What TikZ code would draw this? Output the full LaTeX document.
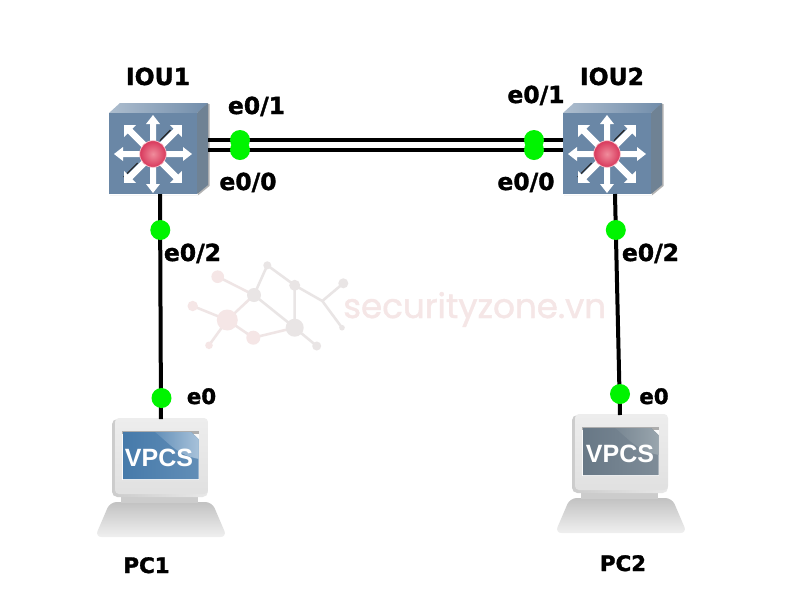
\documentclass[tikz,border=0pt]{standalone}
\usepackage{fontspec}
\setmainfont[BoldFeatures={FakeBold=1.4}]{DejaVu Sans}
\newfontfamily\screenfont{Liberation Sans}
\newfontfamily\markfont[FakeBold=1.2]{Poppins}
\definecolor{linkgreen}{HTML}{00F400}
\definecolor{faceblue}{HTML}{6A87A6}
\definecolor{sideblue}{HTML}{6F8294}
\definecolor{markpink}{HTML}{F5E6E6}
\definecolor{markgrey}{HTML}{E9E5E5}
\definecolor{screenblue}{HTML}{467AAA}
\definecolor{glossblue}{HTML}{A8C2DA}
\definecolor{screengrey}{HTML}{687886}
\definecolor{glossgrey}{HTML}{9AA6AE}
\definecolor{ballin}{HTML}{F08C9C}
\definecolor{ballout}{HTML}{D8385C}
\tikzset{
  link/.style={line width=3pt,black},
  port/.style={circle,fill=linkgreen,draw=none,minimum size=15pt,inner sep=0pt},
  tag/.style={font=\bfseries\fontsize{17.6}{20}\selectfont,anchor=base,inner sep=0pt},
  smalltag/.style={font=\bfseries\fontsize{16}{20}\selectfont,anchor=base,inner sep=0pt},
  web/.style={line width=1.9pt},
  switchface/.style={rectangle,minimum width=66pt,minimum height=60.75pt,inner sep=0pt,draw=none},
  pics/switchbody/.style={code={
    % shadow, roof and side of the cube around the front face at the origin
    \fill[black!30] (-43,41) -- (45.5,41) -- (56.5,32) -- (56.5,-50) -- (45,-50) -- (45,41) -- cycle;
    \shade[left color=faceblue!55!white,right color=faceblue!95!white]
      (-44,-41) -- (-33,-51) -- (55,-51) -- (44,-41) -- cycle;
    \fill[sideblue] (44,-41) -- (55,-51) -- (55,31) -- (44,40) -- cycle;
    \fill[faceblue] (-44,-41) rectangle (44,40);
    % dark edges beside the rising diagonal
    \draw[black!85,line width=.9pt] (7,-13.4) -- (17.5,-24);
    \draw[black!85,line width=.9pt] (-29.4,23) -- (-15.4,9);
    % eight white spokes
    \foreach \ang in {0,90,180,270}{
      \fill[white,rotate=\ang] (0,-3) -- (30,-3) -- (30,-7) -- (39,0) -- (30,7) -- (30,3) -- (0,3) -- cycle;}
    \foreach \ang in {45,135,225,315}{
      \fill[white,rotate=\ang] (0,-3.2) -- (32.5,-3.2) -- (32.5,-8.5) -- (41,0) -- (32.5,8.5) -- (32.5,3.2) -- (0,3.2) -- cycle;}
    % red ball in the middle
    \shade[inner color=ballin,outer color=ballout,draw=ballin!50!white,line width=.5pt]
      (0,0) circle[radius=13.3];
  }},
  pics/pcbody/.style args={#1 and #2}{code={
    % base of the terminal, then neck, monitor and screen
    \shade[top color=black!24,bottom color=black!6,rounded corners=5pt]
      (-51,83) -- (51,83) -- (66,118) -- (-66,118) -- cycle;
    \fill[black!20] (-40,76) rectangle (37,84);
    \shade[left color=black!20,right color=black!9,rounded corners=4pt] (-49,0) rectangle (47,78);
    \shade[top color=black!7,bottom color=black!12,rounded corners=3pt] (-46,-1) rectangle (47,75);
    \fill[black!32] (-39,12) rectangle (38,15);
    \fill[black!2] (-39,15) rectangle (38,61);
    \begin{scope}
      \clip (-38,13) -- (30,13) -- (37.5,20) -- (37.5,60) -- (-38,60) -- cycle;
      \shade[left color=#1,right color=#1!85!white] (-38,13) rectangle (38,60);
      \shade[left color=#1!70!#2,right color=#2] (-6,13) .. controls (8,24) and (16,36) .. (38,40) -- (38,13) -- cycle;
    \end{scope}
  }}
}
\begin{document}
\begin{tikzpicture}[x=.75pt,y=-.75pt]
\useasboundingbox (0,0) rectangle (794,612);
\fill[white] (0,0) rectangle (794,612);

% faint network emblem and site name behind the topology
\coordinate (wa) at (217.7,276.7);
\coordinate (wb) at (254,295);
\coordinate (wc) at (267.3,265.3);
\coordinate (wd) at (294.7,285.3);
\coordinate (we) at (343.3,283.3);
\coordinate (wf) at (322.3,301);
\coordinate (wg) at (342,327.7);
\coordinate (wh) at (294.7,327.7);
\coordinate (wi) at (316.7,346);
\coordinate (wj) at (253.3,337.7);
\coordinate (wk) at (227.3,320);
\coordinate (wl) at (192.7,306);
\coordinate (wm) at (209,345.3);
\draw[web,markgrey!50!markpink] (wa) -- (wb) (wb) -- (wk) (wk) -- (wj) (wj) -- (wh) (wk) -- (wl) (wk) -- (wm);
\draw[web,markgrey] (wb) -- (wc) (wc) -- (wd) (wd) -- (wf) (wf) -- (we) (wf) -- (wg) (wd) -- (wh) (wb) -- (wh) (wh) -- (wi);
\foreach \p/\r/\c in {wa/6.3/markpink,wb/7/markgrey,wc/4/markgrey,wd/5.5/markgrey,we/5/markgrey,wg/2.8/markgrey,wh/9/markgrey,wi/4.5/markgrey,wj/7/markpink,wk/10.5/markpink,wl/5.2/markpink,wm/3.8/markpink}
  \fill[\c] (\p) circle[radius=\r];
\node[inner sep=0pt,anchor=base west,text=markpink] (site) at (343,318)
  {\markfont\fontsize{25.6}{30}\selectfont securityzone.vn};

% the two switches
\pic at (153,154) {switchbody};
\pic at (607,154) {switchbody};
\node[switchface] (iou1) at (153,153.5) {};
\node[switchface] (iou2) at (607,153.5) {};

% the two terminals
\pic at (161,419) {pcbody={screenblue and glossblue}};
\pic at (621,415) {pcbody={screengrey and glossgrey}};
\node[inner sep=0pt,text=white,font=\screenfont\bfseries\fontsize{18.75}{22}\selectfont] (pc1) at (159,458) {VPCS};
\node[inner sep=0pt,text=white,font=\screenfont\bfseries\fontsize{18.75}{22}\selectfont] (pc2) at (620,454) {VPCS};

% connector ends on the cube sides and the monitor tops
\coordinate (a1) at (208,140);
\coordinate (a0) at (208,150);
\coordinate (b1) at (563,140);
\coordinate (b0) at (563,150);
\coordinate (as) at (160,194);
\coordinate (bs) at (615,194);
\coordinate (at) at (161,419);
\coordinate (bt) at (620,415);
\draw[link] (a1) -- (b1);
\draw[link] (a0) -- (b0);
\draw[link] (as) -- (at);
\draw[link] (bs) -- (bt);

% interface markers
\node[port] (p1) at (240,140) {};
\node[port] (p2) at (240,150) {};
\node[port] (p3) at (534,140) {};
\node[port] (p4) at (534,150) {};
\node[port] (p5) at (160.3,230) {};
\node[port] (p6) at (161.5,398) {};
\node[port] (p7) at (615.8,230) {};
\node[port] (p8) at (620,394) {};

% device and interface labels
\node[tag] (l1) at (158,85) {IOU1};
\node[tag] (l2) at (612,85) {IOU2};
\node[tag] (l3) at (256.5,114) {e0/1};
\node[tag] (l4) at (248,190) {e0/0};
\node[tag] (l5) at (536,103) {e0/1};
\node[tag] (l6) at (526,190) {e0/0};
\node[tag] (l7) at (192.5,261) {e0/2};
\node[tag] (l8) at (650.5,261) {e0/2};
\node[smalltag] (l9) at (201.5,404) {e0};
\node[smalltag] (l10) at (654,404) {e0};
\node[smalltag] (l11) at (146.5,573) {PC1};
\node[smalltag] (l12) at (623,571) {PC2};
\end{tikzpicture}
\end{document}
